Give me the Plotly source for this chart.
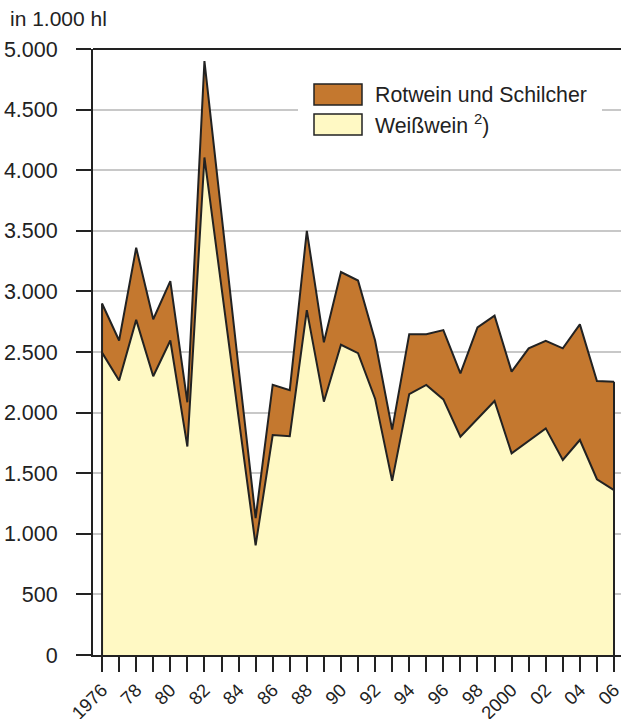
import plotly.graph_objects as go

years = list(range(1976, 2007))
weisswein = [2495, 2265, 2765, 2300, 2595, 1720, 4105, 3010, 1960, 905,
             1815, 1805, 2845, 2090, 2560, 2490, 2115, 1437, 2153, 2228,
             2109, 1801, 1952, 2096, 1664, 1770, 1870, 1609, 1774, 1450, 1361]
rotwein = [405, 330, 595, 470, 490, 365, 795, 600, 410, 225,
           415, 380, 655, 490, 600, 600, 480, 423, 493, 418,
           572, 523, 751, 704, 674, 760, 723, 921, 954, 811, 894]
x_tickvals = [1976, 1978, 1980, 1982, 1984, 1986, 1988, 1990, 1992, 1994, 1996,
              1998, 2000, 2002, 2004, 2006]
x_ticktext = ["1976", "78", "80", "82", "84", "86", "88", "90", "92", "94", "96",
              "98", "2000", "02", "04", "06"]
y_tickvals = [0, 500, 1000, 1500, 2000, 2500, 3000, 3500, 4000, 4500, 5000]
y_ticktext = ["0", "500", "1.000", "1.500", "2.000", "2.500", "3.000", "3.500",
              "4.000", "4.500", "5.000"]
series_names = ["Rotwein und Schilcher", "Weißwein <sup>2</sup>)"]

RED = "#C4782F"
YEL = "#FFF9C4"
DARK = "#222222"
FONT = "Liberation Sans, Arial, Helvetica, sans-serif"

total = [w + r for w, r in zip(weisswein, rotwein)]

fig = go.Figure()
fig.add_trace(go.Scatter(x=years, y=weisswein, stackgroup="s", mode="lines",
                         line=dict(color=DARK, width=2), fillcolor=YEL,
                         showlegend=False, hoverinfo="skip"))
fig.add_trace(go.Scatter(x=years, y=rotwein, stackgroup="s", mode="lines",
                         line=dict(color=DARK, width=2), fillcolor=RED,
                         showlegend=False, hoverinfo="skip"))
# outline of the stacked block edges
fig.add_trace(go.Scatter(x=[years[0], years[0]], y=[0, total[0]], mode="lines",
                         line=dict(color=DARK, width=2), showlegend=False, hoverinfo="skip"))
fig.add_trace(go.Scatter(x=[years[-1], years[-1]], y=[0, total[-1]], mode="lines",
                         line=dict(color=DARK, width=2), showlegend=False, hoverinfo="skip"))

W, H = 621, 719
L, R, T, B = 93, 0, 49, 64
pw, ph = W - L - R, H - T - B


def px(xp):
    return (xp - L) / pw


def py(yp):
    return (H - B - yp) / ph


shapes = [
    # top border
    dict(type="line", xref="paper", yref="paper", x0=0, x1=1, y0=1, y1=1,
         line=dict(color=DARK, width=2), layer="above"),
    # legend background
    dict(type="rect", xref="paper", yref="paper", x0=px(298), x1=px(602), y0=py(148), y1=py(72),
         fillcolor="white", line=dict(width=0), layer="above"),
    dict(type="rect", xref="paper", yref="paper", x0=px(314), x1=px(362), y0=py(105), y1=py(84),
         fillcolor=RED, line=dict(color=DARK, width=1.5), layer="above"),
    dict(type="rect", xref="paper", yref="paper", x0=px(314), x1=px(362), y0=py(135), y1=py(114),
         fillcolor=YEL, line=dict(color=DARK, width=1.5), layer="above"),
]
annotations = [
    dict(text=series_names[0], xref="paper", yref="paper", x=px(373), y=py(95),
         xanchor="left", yanchor="middle", showarrow=False,
         font=dict(family=FONT, size=21.3, color=DARK)),
    dict(text=series_names[1], xref="paper", yref="paper", x=px(373), y=py(125),
         xanchor="left", yanchor="middle", showarrow=False,
         font=dict(family=FONT, size=21.3, color=DARK)),
    dict(text="in 1.000 hl", xref="paper", yref="paper", x=px(8), y=py(18),
         xanchor="left", yanchor="middle", showarrow=False,
         font=dict(family=FONT, size=21, color=DARK)),
]

fig.update_layout(
    width=W, height=H,
    margin=dict(l=L, r=R, t=T, b=B, pad=0, autoexpand=False),
    paper_bgcolor="white", plot_bgcolor="white",
    font=dict(family=FONT, size=21.5, color=DARK),
    shapes=shapes, annotations=annotations,
    showlegend=False,
)
fig.update_xaxes(range=[1975.47, 2006.41], tickvals=x_tickvals, ticktext=x_ticktext,
                 tickangle=-45, ticks="outside", ticklen=15, tickwidth=2, tickcolor=DARK,
                 minor=dict(ticks="outside", ticklen=15, tickwidth=2, tickcolor=DARK,
                            tick0=1976, dtick=1, showgrid=False),
                 showline=True, linecolor=DARK, linewidth=2, showgrid=False, zeroline=False,
                 automargin=False, ticklabeloverflow="allow",
                 tickfont=dict(size=18.5, color=DARK))
fig.update_yaxes(range=[0, 5000], tickvals=y_tickvals, ticktext=y_ticktext,
                 ticks="outside", ticklen=15, tickwidth=2, tickcolor=DARK,
                 showline=True, linecolor=DARK, linewidth=2,
                 showgrid=True, gridcolor="#C8C8C8", gridwidth=1.5, zeroline=False,
                 automargin=False, ticklabeloverflow="allow",
                 ticklabelstandoff=14, tickfont=dict(size=21.5, color=DARK))

fig.write_html("out.html", config={"displayModeBar": False},
               post_script="document.body.style.margin='0';document.body.style.overflow='hidden';")
